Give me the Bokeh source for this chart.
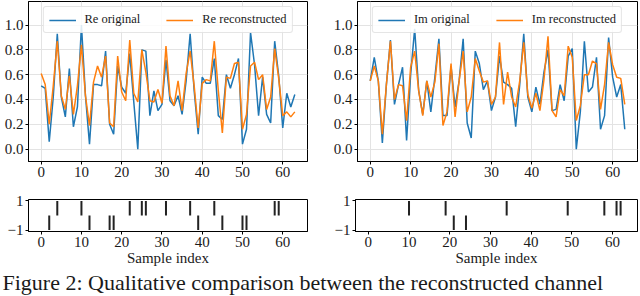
from bokeh.plotting import figure
from bokeh.models import Range1d, FixedTicker, Legend, LegendItem
from bokeh.layouts import column, row
from bokeh.embed import file_html
from bokeh.resources import INLINE
from bokeh.core.properties import value

# ---------------- data ----------------
sample_index = list(range(64))

re_original = [0.51, 0.49, 0.06, 0.42, 0.93, 0.42, 0.26, 0.65, 0.18, 0.34,
               1.00, 0.43, 0.04, 0.52, 0.52, 0.51, 0.79, 0.20, 0.12, 0.67,
               0.50, 0.45, 0.77, 0.38, 0.00, 0.80, 0.79, 0.27, 0.47, 0.31,
               0.36, 0.72, 0.39, 0.35, 0.43, 0.28, 0.55, 0.93, 0.47, 0.12,
               0.58, 0.53, 0.53, 0.73, 0.27, 0.24, 0.60, 0.49, 0.60, 0.73,
               0.04, 0.16, 0.94, 0.68, 0.27, 0.58, 0.28, 0.21, 0.87, 0.59,
               0.17, 0.45, 0.34, 0.44]
re_reconstructed = [0.61, 0.52, 0.20, 0.51, 0.87, 0.43, 0.32, 0.59, 0.28, 0.51,
                    0.84, 0.43, 0.19, 0.54, 0.67, 0.58, 0.75, 0.21, 0.18, 0.75,
                    0.46, 0.39, 0.88, 0.45, 0.38, 0.80, 0.62, 0.39, 0.38, 0.48,
                    0.37, 0.83, 0.43, 0.35, 0.55, 0.31, 0.61, 0.79, 0.51, 0.17,
                    0.53, 0.56, 0.55, 0.87, 0.47, 0.13, 0.58, 0.57, 0.69, 0.70,
                    0.16, 0.28, 0.67, 0.70, 0.56, 0.60, 0.32, 0.42, 0.81, 0.57,
                    0.27, 0.30, 0.26, 0.30]
im_original = [0.55, 0.74, 0.55, 0.05, 0.52, 0.88, 0.36, 0.52, 0.66, 0.07,
               0.60, 0.97, 0.47, 0.28, 0.55, 0.30, 0.58, 0.89, 0.27, 0.27,
               0.67, 0.34, 0.55, 0.89, 0.21, 0.09, 0.79, 0.69, 0.48, 0.55,
               0.31, 0.42, 0.75, 0.54, 0.52, 0.49, 0.18, 0.52, 0.93, 0.42,
               0.30, 0.50, 0.36, 0.62, 0.80, 0.31, 0.32, 0.52, 0.39, 0.75,
               0.81, 0.00, 0.30, 0.87, 0.46, 0.50, 0.74, 0.16, 0.27, 0.90,
               0.58, 0.42, 0.52, 0.16]
im_reconstructed = [0.55, 0.67, 0.55, 0.12, 0.52, 0.87, 0.40, 0.52, 0.51, 0.23,
                    0.66, 0.79, 0.47, 0.27, 0.55, 0.42, 0.54, 0.85, 0.19, 0.30,
                    0.69, 0.26, 0.55, 0.79, 0.30, 0.42, 0.73, 0.63, 0.54, 0.55,
                    0.36, 0.42, 0.86, 0.36, 0.62, 0.42, 0.34, 0.55, 0.86, 0.44,
                    0.33, 0.45, 0.31, 0.56, 0.91, 0.31, 0.26, 0.48, 0.43, 0.83,
                    0.74, 0.23, 0.35, 0.60, 0.60, 0.71, 0.69, 0.32, 0.52, 0.86,
                    0.68, 0.58, 0.57, 0.36]

# sign indicators (+1 / -1) at these sample indices
re_pos_index = [4, 10, 22, 25, 26, 31, 37, 43, 58, 59]
re_neg_index = [2, 12, 17, 18, 39, 45, 50, 51]
im_pos_index = [10, 19, 34, 49, 58, 61, 62]
im_neg_index = [21, 24]

x_ticks = [0, 10, 20, 30, 40, 50, 60]
y_ticks_top = [0.0, 0.2, 0.4, 0.6, 0.8, 1.0]
y_tick_labels_top = {0.0: "0.0", 0.2: "0.2", 0.4: "0.4", 0.6: "0.6", 0.8: "0.8", 1.0: "1.0"}
y_ticks_bottom = [-1, 1]
y_tick_labels_bottom = {-1: "\u22121", 1: "1"}
x_label = "Sample index"
legend_labels_re = ["Re original", "Re reconstructed"]
legend_labels_im = ["Im original", "Im reconstructed"]
caption_text = "Figure 2: Qualitative comparison between the reconstructed channel"

FONT = "Liberation Serif"
BLUE = "#1f77b4"
ORANGE = "#ff7f0e"
TXT = "#1a1a1a"


def style(p, grid):
    p.axis.major_label_text_font = FONT
    p.axis.major_label_text_font_size = "15px"
    p.axis.major_label_text_color = TXT
    p.axis.axis_line_color = "black"
    p.axis.major_tick_line_color = "black"
    p.axis.major_tick_out = 3
    p.axis.major_tick_in = 0
    p.axis.minor_tick_line_color = None
    p.axis.major_label_standoff = 2
    p.xaxis.ticker = FixedTicker(ticks=x_ticks)
    p.outline_line_color = "black"
    p.outline_line_alpha = 1.0
    if grid:
        p.grid.grid_line_color = "#e3e3e3"
        p.grid.grid_line_width = 1
    else:
        p.grid.visible = False


def top_fig(orig, recon, labels, bl, br, w):
    p = figure(width=w, height=190, x_range=Range1d(-3.15, 66.15),
               y_range=Range1d(-0.10, 1.19), output_backend="svg",
               toolbar_location=None, min_border_left=bl, min_border_right=br,
               min_border_top=1, min_border_bottom=29)
    r1 = p.line(sample_index, orig, line_color=BLUE, line_width=1.5)
    r2 = p.line(sample_index, recon, line_color=ORANGE, line_width=1.5)
    style(p, True)
    p.yaxis.ticker = FixedTicker(ticks=y_ticks_top)
    p.yaxis.major_label_overrides = y_tick_labels_top
    leg = Legend(items=[LegendItem(label=labels[0], renderers=[r1]),
                        LegendItem(label=labels[1], renderers=[r2])],
                 location="top_center", orientation="horizontal",
                 label_text_font=FONT, label_text_font_size="12.5px",
                 label_text_color=TXT, glyph_width=27, glyph_height=12,
                 label_height=12, label_standoff=9, spacing=26, padding=5,
                 margin=5, border_line_color="#cccccc", border_line_width=1,
                 background_fill_color="white", background_fill_alpha=0.85)
    if "border_radius" in Legend.properties():
        leg.border_radius = 3
    p.add_layout(leg)
    return p


def bottom_fig(pos_idx, neg_idx, bl, br, w):
    p = figure(width=w, height=78, x_range=Range1d(-3.15, 66.15),
               y_range=Range1d(-1.1, 1.1), output_backend="svg",
               toolbar_location=None, min_border_left=bl, min_border_right=br,
               min_border_top=9, min_border_bottom=37)
    p.segment(x0=pos_idx, y0=[0] * len(pos_idx), x1=pos_idx, y1=[1] * len(pos_idx),
              line_color="#222222", line_width=2)
    p.segment(x0=neg_idx, y0=[0] * len(neg_idx), x1=neg_idx, y1=[-1] * len(neg_idx),
              line_color="#222222", line_width=2)
    style(p, False)
    p.yaxis.ticker = FixedTicker(ticks=y_ticks_bottom)
    p.yaxis.major_label_overrides = y_tick_labels_bottom
    p.xaxis.axis_label = x_label
    p.xaxis.axis_label_text_font = FONT
    p.xaxis.axis_label_text_font_size = "15px"
    p.xaxis.axis_label_text_font_style = "normal"
    p.xaxis.axis_label_text_color = TXT
    p.xaxis.axis_label_standoff = 0
    return p


tl = top_fig(re_original, re_reconstructed, legend_labels_re, 28, 23, 330)
tr = top_fig(im_original, im_reconstructed, legend_labels_im, 25, 3, 310)
bl = bottom_fig(re_pos_index, re_neg_index, 28, 23, 330)
br = bottom_fig(im_pos_index, im_neg_index, 25, 3, 310)

cap = figure(width=640, height=28, x_range=Range1d(0, 640), y_range=Range1d(0, 28),
             output_backend="svg", toolbar_location=None, x_axis_type=None,
             y_axis_type=None, min_border=0)
cap.grid.visible = False
cap.outline_line_color = None
cap.text(x=[2], y=[27], text=[caption_text], text_font=value(FONT),
         text_font_size="22px", text_baseline="top", text_color=TXT)

layout = column(row(tl, tr), row(bl, br), cap)

open("out.html", "w").write(file_html(layout, INLINE))
